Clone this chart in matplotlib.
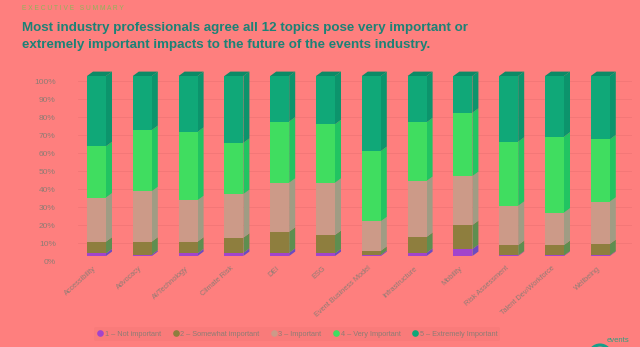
import matplotlib
matplotlib.use("Agg")
import matplotlib.pyplot as plt
from matplotlib.patches import Polygon, Arc
from matplotlib.lines import Line2D

# share of respondents per rating, one list per topic order below
topics = ["Accessibility", "Advocacy", "AI/Technology", "Climate Risk", "DEI", "ESG",
          "Event Business Model", "Infrastructure", "Mobility", "Risk Assessment",
          "Talent Dev/Workforce", "Wellbeing"]
not_important = [1.5, 0.8, 1.5, 1.8, 1.8, 1.5, 0.6, 1.8, 3.9, 0.3, 0.3, 0.3]
somewhat_important = [6.5, 7.2, 6.5, 8.4, 11.7, 10.2, 2.3, 8.8, 13.3, 5.8, 5.8, 6.4]
important = [24.5, 28.0, 23.0, 24.2, 27.2, 29.0, 16.4, 31.1, 27.2, 21.8, 18.0, 23.5]
very_important = [28.5, 34.0, 38.0, 28.5, 34.0, 32.5, 39.0, 32.6, 35.2, 35.6, 42.2, 34.6]
extremely_important = [39.0, 30.0, 31.0, 37.1, 25.3, 26.8, 41.7, 25.7, 20.4, 36.5, 33.7, 35.2]

series_labels = ["1 \u2013 Not important", "2 \u2013 Somewhat important", "3 \u2013 Important",
                 "4 \u2013 Very Important", "5 \u2013 Extremely Important"]
y_ticks = [0, 10, 20, 30, 40, 50, 60, 70, 80, 90, 100]

BG = "#FE7F7E"
FRONT = ["#A244CC", "#8E7E3E", "#CC9A88", "#40DD60", "#10A878"]
SIDE = ["#6A4CC0", "#5E8E50", "#A09C84", "#22C462", "#0C946C"]
TOP = "#0C8A66"
TXT = "#8E7C74"

W = 640 / 100
H = 347 / 100
fig = plt.figure(figsize=(W, H), dpi=100, facecolor=BG)


def fig_box(left_px, top_px, right_px, bottom_px):
    return [left_px / 640, 1 - bottom_px / 347, (right_px - left_px) / 640,
            (bottom_px - top_px) / 347]


# back wall: grid lines and percent labels
gax = fig.add_axes(fig_box(78, 81, 632, 261))
gax.set_facecolor("none")
gax.set_ylim(0, 100)
gax.set_xlim(0, 1)
for v in y_ticks:
    gax.axhline(v, color="#F27676", lw=0.6, zorder=0)
gax.set_yticks(y_ticks)
gax.set_yticklabels([f"{v}%" for v in y_ticks], fontsize=6, color=TXT,
                    family="Liberation Sans")
gax.tick_params(axis="y", length=0, pad=16)
gax.set_xticks([])
for s in gax.spines.values():
    s.set_visible(False)

# bars
ax = fig.add_axes(fig_box(62, 76, 626, 256))
ax.set_facecolor("none")
ax.set_ylim(0, 100)
px_per_unit = 45.8
ax.set_xlim(-(96.5 - 62) / px_per_unit, (626 - 96.5) / px_per_unit)
ax.axis("off")

bw = 19 / px_per_unit
dx = 6 / px_per_unit
dy = 4.4 / 1.8

series = [not_important, somewhat_important, important, very_important, extremely_important]
x = list(range(len(topics)))
bottoms = [0.0] * len(topics)
for k, vals in enumerate(series):
    ax.bar(x, vals, width=bw, bottom=bottoms, color=FRONT[k], lw=0, zorder=3)
    for i, v in enumerate(vals):
        y0 = bottoms[i]
        y1 = y0 + v
        xr = i + bw / 2
        side = Polygon([(xr, y0), (xr + dx, y0 + dy), (xr + dx, y1 + dy), (xr, y1)],
                       closed=True, facecolor=SIDE[k], lw=0, zorder=2)
        ax.add_patch(side)
        if k == len(series) - 1:
            xl = i - bw / 2
            top = Polygon([(xl, y1), (xl + dx, y1 + dy), (xr + dx, y1 + dy), (xr, y1)],
                          closed=True, facecolor=TOP, lw=0, zorder=2)
            ax.add_patch(top)
    bottoms = [b + v for b, v in zip(bottoms, vals)]
for p in ax.patches:
    p.set_clip_on(False)

for i, name in enumerate(topics):
    ax.text(i - 0.02, -6.5, name, rotation=42, rotation_mode="anchor", ha="right",
            va="center", fontsize=5.3, color=TXT, family="Liberation Sans")

# legend
handles = [Line2D([], [], marker="o", ls="none", markersize=4.8, markerfacecolor=c,
                  markeredgewidth=0) for c in FRONT]
leg = fig.legend(handles, series_labels, loc="center", bbox_to_anchor=(297 / 640, 1 - 334 / 347),
                 ncol=5, frameon=True, fontsize=5.3, handletextpad=0.1, columnspacing=1.5,
                 borderpad=0.4, handlelength=1)
leg.get_frame().set_facecolor("#F87B7A")
leg.get_frame().set_edgecolor("none")
for t in leg.get_texts():
    t.set_color(TXT)
    t.set_family("Liberation Sans")

# header
fig.text(22 / 640, 1 - 8 / 347, "E X E C U T I V E   S U M M A R Y", fontsize=4.8,
         color="#8DB55A", va="center", family="Liberation Sans")
fig.text(22 / 640, 1 - 31 / 347, "Most industry professionals agree all 12 topics pose very important or",
         fontsize=9.6, fontweight="bold", color="#1C8276", va="baseline",
         family="Liberation Sans")
fig.text(22 / 640, 1 - 48 / 347, "extremely important impacts to the future of the events industry.",
         fontsize=9.6, fontweight="bold", color="#1C8276", va="baseline",
         family="Liberation Sans")

# logo corner
lax = fig.add_axes([0, 0, 1, 1])
lax.set_xlim(0, 640)
lax.set_ylim(347, 0)
lax.axis("off")
lax.add_patch(Arc((600, 356), 22, 22, theta1=180, theta2=360, color="#14A08A", lw=2.2))
lax.text(607, 341, "events", fontsize=5.5, color="#2EA080", va="center",
         family="Liberation Sans")

fig.savefig("out.png", dpi=100, facecolor=BG)
